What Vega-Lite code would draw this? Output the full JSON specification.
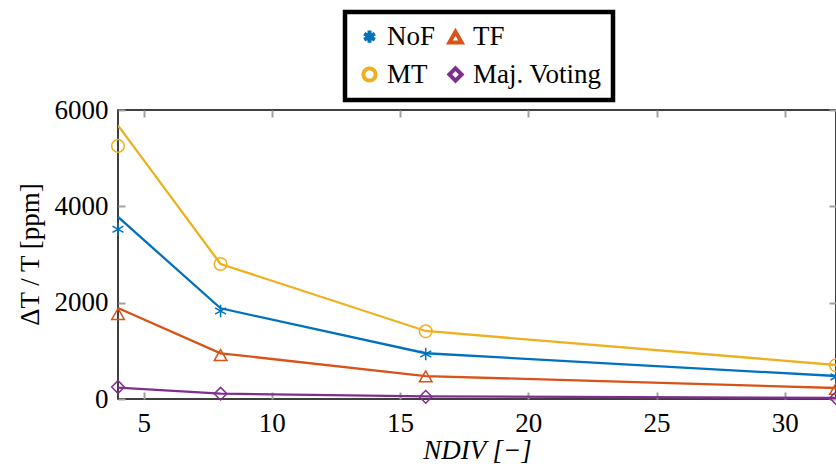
{
  "$schema": "https://vega.github.io/schema/vega-lite/v6.json",
  "autosize": {"type": "none"},
  "width": 718,
  "height": 289,
  "padding": {"left": 118, "top": 110, "right": 0, "bottom": 65},
  "background": "white",
  "config": {
    "view": {"stroke": "black", "strokeWidth": 1.5},
    "font": "Liberation Serif",
    "axis": {"labelFont": "Liberation Serif", "titleFont": "Liberation Serif", "labelColor": "black", "titleColor": "black", "titleFontWeight": "normal", "grid": false, "domain": false, "ticks": true, "tickColor": "#a0a0a0", "tickWidth": 2, "tickOpacity": 1},
    "legend": {"labelFontSize": 27, "labelFont": "Liberation Serif", "labelColor": "black", "labelOffset": 4, "labelLimit": 300,
               "symbolSize": 150, "symbolStrokeWidth": 4, "padding": 11, "strokeColor": "black", "columnPadding": 5, "rowPadding": 9}
  },
  "data": {"values": [
    {"x": 4, "series": "NoF", "fit": 3780, "meas": 3523},
    {"x": 8, "series": "NoF", "fit": 1883, "meas": 1827},
    {"x": 16, "series": "NoF", "fit": 950, "meas": 934},
    {"x": 32, "series": "NoF", "fit": 477, "meas": 460},
    {"x": 4, "series": "TF", "fit": 1890, "meas": 1765},
    {"x": 8, "series": "TF", "fit": 949, "meas": 913},
    {"x": 16, "series": "TF", "fit": 477, "meas": 470},
    {"x": 32, "series": "TF", "fit": 228, "meas": 210},
    {"x": 4, "series": "MT", "fit": 5680, "meas": 5255},
    {"x": 8, "series": "MT", "fit": 2803, "meas": 2803},
    {"x": 16, "series": "MT", "fit": 1412, "meas": 1405},
    {"x": 32, "series": "MT", "fit": 706, "meas": 700},
    {"x": 4, "series": "Maj. Voting", "fit": 235, "meas": 249},
    {"x": 8, "series": "Maj. Voting", "fit": 110, "meas": 110},
    {"x": 16, "series": "Maj. Voting", "fit": 55, "meas": 45},
    {"x": 32, "series": "Maj. Voting", "fit": 25, "meas": 20}
  ]},
  "layer": [
    {
      "mark": {"type": "line", "strokeWidth": 2.3, "clip": true},
      "encoding": {
        "x": {"field": "x", "type": "quantitative", "scale": {"domain": [4, 32], "nice": false, "zero": false},
              "axis": {"orient": "bottom", "offset": -7, "values": [5, 10, 15, 20, 25, 30], "tickSize": 7, "labelPadding": 11, "labelFontSize": 27, "title": "NDIV [−]", "titleFontSize": 27, "titleFontStyle": "italic", "titleY": 45, "titleBaseline": "top"}},
        "y": {"field": "fit", "type": "quantitative", "scale": {"domain": [0, 6000], "nice": false},
              "axis": {"orient": "left", "offset": -7, "values": [0, 2000, 4000, 6000], "format": "d", "tickSize": 7, "labelPadding": 10, "labelFontSize": 27, "title": "ΔT / T [ppm]", "titleFontSize": 27, "titleX": -81, "titleY": 144}},
        "color": {"field": "series", "type": "nominal", "sort": ["NoF", "TF", "MT", "Maj. Voting"],
                  "scale": {"domain": ["NoF", "TF", "MT", "Maj. Voting"], "range": ["#0072BD", "#D95319", "#EDB120", "#7E2F8E"]},
                  "legend": {"title": null, "orient": "none", "direction": "horizontal", "legendX": 227, "legendY": -98, "columns": 2,
                             "encode": {"legend": {"update": {"strokeWidth": {"value": 4.5}, "stroke": {"value": "black"}}}}}}
      }
    },
    {
      "mark": {"type": "point", "filled": false, "strokeWidth": 1.5, "size": 160, "clip": false, "opacity": 1},
      "encoding": {
        "x": {"field": "x", "type": "quantitative", "axis": {"orient": "top", "offset": -7, "values": [5, 10, 15, 20, 25, 30], "tickSize": 7, "labels": false, "title": null}},
        "y": {"field": "meas", "type": "quantitative", "axis": {"orient": "right", "offset": -7, "values": [0, 2000, 4000, 6000], "tickSize": 7, "labels": false, "title": null}},
        "color": {"field": "series", "type": "nominal", "sort": ["NoF", "TF", "MT", "Maj. Voting"],
                  "legend": {"title": null, "orient": "none", "direction": "horizontal", "legendX": 227, "legendY": -98, "columns": 2,
                             "encode": {"legend": {"update": {"strokeWidth": {"value": 4.5}, "stroke": {"value": "black"}}}}}},
        "shape": {"field": "series", "type": "nominal", "sort": ["NoF", "TF", "MT", "Maj. Voting"],
                  "scale": {"domain": ["NoF", "TF", "MT", "Maj. Voting"], "range": ["M0,-1L0,1M-0.866,-0.5L0.866,0.5M-0.866,0.5L0.866,-0.5", "triangle-up", "circle", "diamond"]},
                  "legend": {"title": null, "orient": "none", "direction": "horizontal", "legendX": 227, "legendY": -98, "columns": 2,
                             "encode": {"legend": {"update": {"strokeWidth": {"value": 4.5}, "stroke": {"value": "black"}}}}}}
      }
    }
  ],
  "resolve": {"axis": {"x": "independent", "y": "independent"}}
}
